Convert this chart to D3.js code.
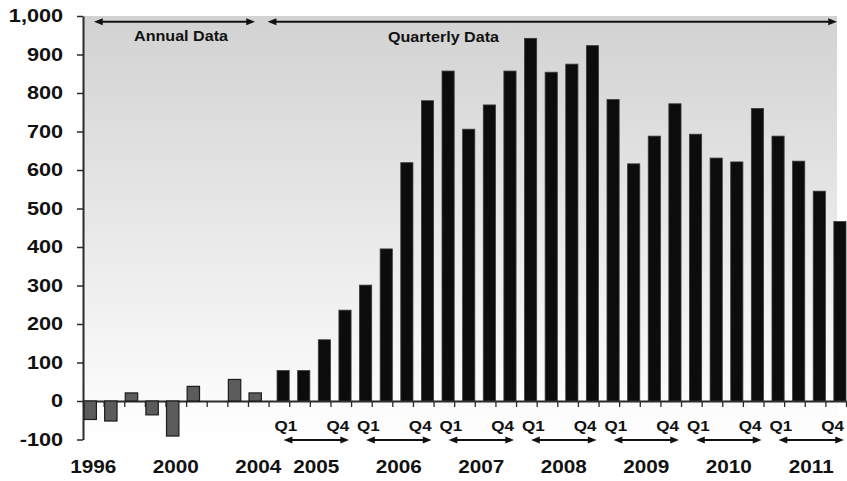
<!DOCTYPE html>
<html>
<head>
<meta charset="utf-8">
<script src="https://cdn.jsdelivr.net/npm/d3@7"></script>
<style>
  html, body { margin: 0; padding: 0; background: #fff; }
  svg { display: block; }
  text { font-family: "Liberation Sans", Arial, sans-serif; fill: #111; }
</style>
</head>
<body>
<svg id="chart" width="847" height="481"></svg>
<script>
// Annual series, 1996-2004 (no reading for 2002)
const annualYears = ["1996", "1997", "1998", "1999", "2000", "2001", "2002", "2003", "2004"];
const annualValues = [-48, -52, 21, -36, -91, 38, null, 56, 21];
const annualLabelYears = ["1996", "2000", "2004"];

// Quarterly series, 2005 Q1 - 2011 Q4
const quarterYears = ["2005", "2006", "2007", "2008", "2009", "2010", "2011"];
const quarterNames = ["Q1", "Q2", "Q3", "Q4"];
const quarterlyValues = [
  79, 79, 159, 236,
  301, 395, 619, 780,
  857, 706, 769, 857,
  942, 854, 875, 923,
  783, 616, 688, 772,
  693, 631, 621, 760,
  688, 623, 545, 466
];

const yTicks = [-100, 0, 100, 200, 300, 400, 500, 600, 700, 800, 900, 1000];
const topLabels = ["Annual Data", "Quarterly Data"];

// Category keys: one slot per year, then one per quarter
const quarterKeys = quarterYears.flatMap(yr => quarterNames.map(q => yr + " " + q));
const categories = annualYears.concat(quarterKeys);

const plotLeft = 83, plotRight = 846, plotTop = 16, plotBottom = 439.5, bgRight = 837;

const svg = d3.select("#chart");

const x = d3.scaleBand().domain(categories).range([plotLeft, plotRight]).padding(0);
const xIdx = d3.scaleLinear().domain([0, categories.length]).range([plotLeft, plotRight]);
const y = d3.scaleLinear().domain([-100, 1000]).range([plotBottom, plotTop]);
const bw = x.bandwidth();

// Horizontal text stretch (the labels are drawn wide)
function stretch(sel, k) {
  sel.each(function () {
    const w = this.getComputedTextLength();
    d3.select(this).attr("textLength", w * k).attr("lengthAdjust", "spacingAndGlyphs");
  });
}

// Plot background: grey fading to white downwards
const defs = svg.append("defs");
const grad = defs.append("linearGradient")
  .attr("id", "bgGrad").attr("x1", 0).attr("y1", 0).attr("x2", 0).attr("y2", 1);
grad.append("stop").attr("offset", "0%").attr("stop-color", "#d2d2d2");
grad.append("stop").attr("offset", "100%").attr("stop-color", "#ffffff");

svg.append("rect")
  .attr("x", plotLeft).attr("y", y(1000))
  .attr("width", bgRight - plotLeft).attr("height", y(-100) - y(1000))
  .attr("fill", "url(#bgGrad)");

// Zero baseline with slot-boundary ticks
const xAxis = d3.axisBottom(xIdx)
  .tickValues(d3.range(categories.length + 1))
  .tickFormat("")
  .tickSize(6)
  .tickSizeOuter(0);
const gx = svg.append("g")
  .attr("transform", `translate(0,${y(0)})`)
  .call(xAxis);
gx.select(".domain").attr("stroke", "#2a2a2a").attr("stroke-width", 1.8);
gx.selectAll(".tick line").attr("stroke", "#2a2a2a").attr("stroke-width", 1.3);

// Annual bars
const annualData = annualYears.map((k, i) => ({ key: k, v: annualValues[i] }))
  .filter(d => d.v !== null);
svg.append("g").selectAll("rect")
  .data(annualData)
  .join("rect")
  .attr("x", d => x(d.key) + bw * 0.05)
  .attr("width", bw * 0.6)
  .attr("y", d => y(Math.max(0, d.v)))
  .attr("height", d => Math.abs(y(d.v) - y(0)))
  .attr("fill", "#5c5c5c")
  .attr("stroke", "#1c1c1c")
  .attr("stroke-width", 1.2);

// Quarterly bars
const quarterData = quarterKeys.map((k, i) => ({ key: k, v: quarterlyValues[i] }));
svg.append("g").selectAll("rect")
  .data(quarterData)
  .join("rect")
  .attr("x", d => x(d.key) + bw * 0.41)
  .attr("width", bw * 0.59)
  .attr("y", d => y(Math.max(0, d.v)))
  .attr("height", d => Math.abs(y(d.v) - y(0)))
  .attr("fill", "#0c0c0c")
  .attr("stroke", "#3a3a3a")
  .attr("stroke-width", 0.8);

// Y axis
const yAxis = d3.axisLeft(y)
  .tickValues(yTicks)
  .tickSize(6)
  .tickSizeOuter(0)
  .tickPadding(14)
  .tickFormat(d => d3.format(",")(d).replace("\u2212", "-"));
const gy = svg.append("g")
  .attr("transform", `translate(${plotLeft},0)`)
  .call(yAxis);
gy.select(".domain").attr("stroke", "#2a2a2a").attr("stroke-width", 2);
gy.selectAll(".tick line").attr("stroke", "#2a2a2a").attr("stroke-width", 1.5);
gy.selectAll(".tick text")
  .attr("font-family", "'Liberation Sans', Arial, sans-serif")
  .attr("font-size", 18.5)
  .attr("font-weight", "bold")
  .attr("fill", "#111")
  .call(stretch, 1.17);

// Double headed arrows
function arrow(g, x1, x2, yy, head, thick) {
  const hl = head * 1.25, hw = head / 2;
  g.append("line")
    .attr("x1", x1 + hl * 0.6).attr("x2", x2 - hl * 0.6)
    .attr("y1", yy).attr("y2", yy)
    .attr("stroke", "#111").attr("stroke-width", thick);
  g.append("path")
    .attr("d", `M${x1},${yy} L${x1 + hl},${yy - hw} L${x1 + hl},${yy + hw} Z`)
    .attr("fill", "#111");
  g.append("path")
    .attr("d", `M${x2},${yy} L${x2 - hl},${yy - hw} L${x2 - hl},${yy + hw} Z`)
    .attr("fill", "#111");
}

const ann = svg.append("g");

// Top range arrows and captions
const firstQ = quarterKeys[0];
arrow(ann, x(annualYears[0]) + 11, x(annualYears[annualYears.length - 1]) + 7, 21.7, 7, 2);
arrow(ann, x(firstQ) - 1, bgRight, 21.7, 7, 2);

ann.append("text")
  .attr("x", 181).attr("y", 41)
  .attr("text-anchor", "middle")
  .attr("font-size", 14).attr("font-weight", "bold")
  .text(topLabels[0])
  .call(stretch, 1.15);
ann.append("text")
  .attr("x", 443.5).attr("y", 41.5)
  .attr("text-anchor", "middle")
  .attr("font-size", 14).attr("font-weight", "bold")
  .text(topLabels[1])
  .call(stretch, 1.15);

// Annual year labels
ann.selectAll("text.ayear")
  .data(annualLabelYears)
  .join("text")
  .attr("class", "ayear")
  .attr("x", d => x(d) + bw / 2)
  .attr("y", 473)
  .attr("text-anchor", "middle")
  .attr("font-size", 18.5).attr("font-weight", "bold")
  .text(d => d)
  .call(stretch, 1.12);

// Quarterly year groups: Q1/Q4 markers, span arrow and year label
quarterYears.forEach(yr => {
  const s = x(yr + " Q1");
  const e = x(yr + " Q4") + bw;
  ann.append("text")
    .attr("x", x(yr + " Q1") + bw / 2 + 7).attr("y", 431)
    .attr("text-anchor", "middle")
    .attr("font-size", 15.5).attr("font-weight", "bold")
    .text(quarterNames[0])
    .call(stretch, 1.1);
  ann.append("text")
    .attr("x", x(yr + " Q4") + bw / 2 - 3).attr("y", 431)
    .attr("text-anchor", "middle")
    .attr("font-size", 15.5).attr("font-weight", "bold")
    .text(quarterNames[3])
    .call(stretch, 1.1);
  arrow(ann, s + 15, e - 2, 440, 7, 1.8);
  ann.append("text")
    .attr("x", (s + 15 + e - 2) / 2).attr("y", 473)
    .attr("text-anchor", "middle")
    .attr("font-size", 18.5).attr("font-weight", "bold")
    .text(yr)
    .call(stretch, 1.12);
});
</script>
</body>
</html>
